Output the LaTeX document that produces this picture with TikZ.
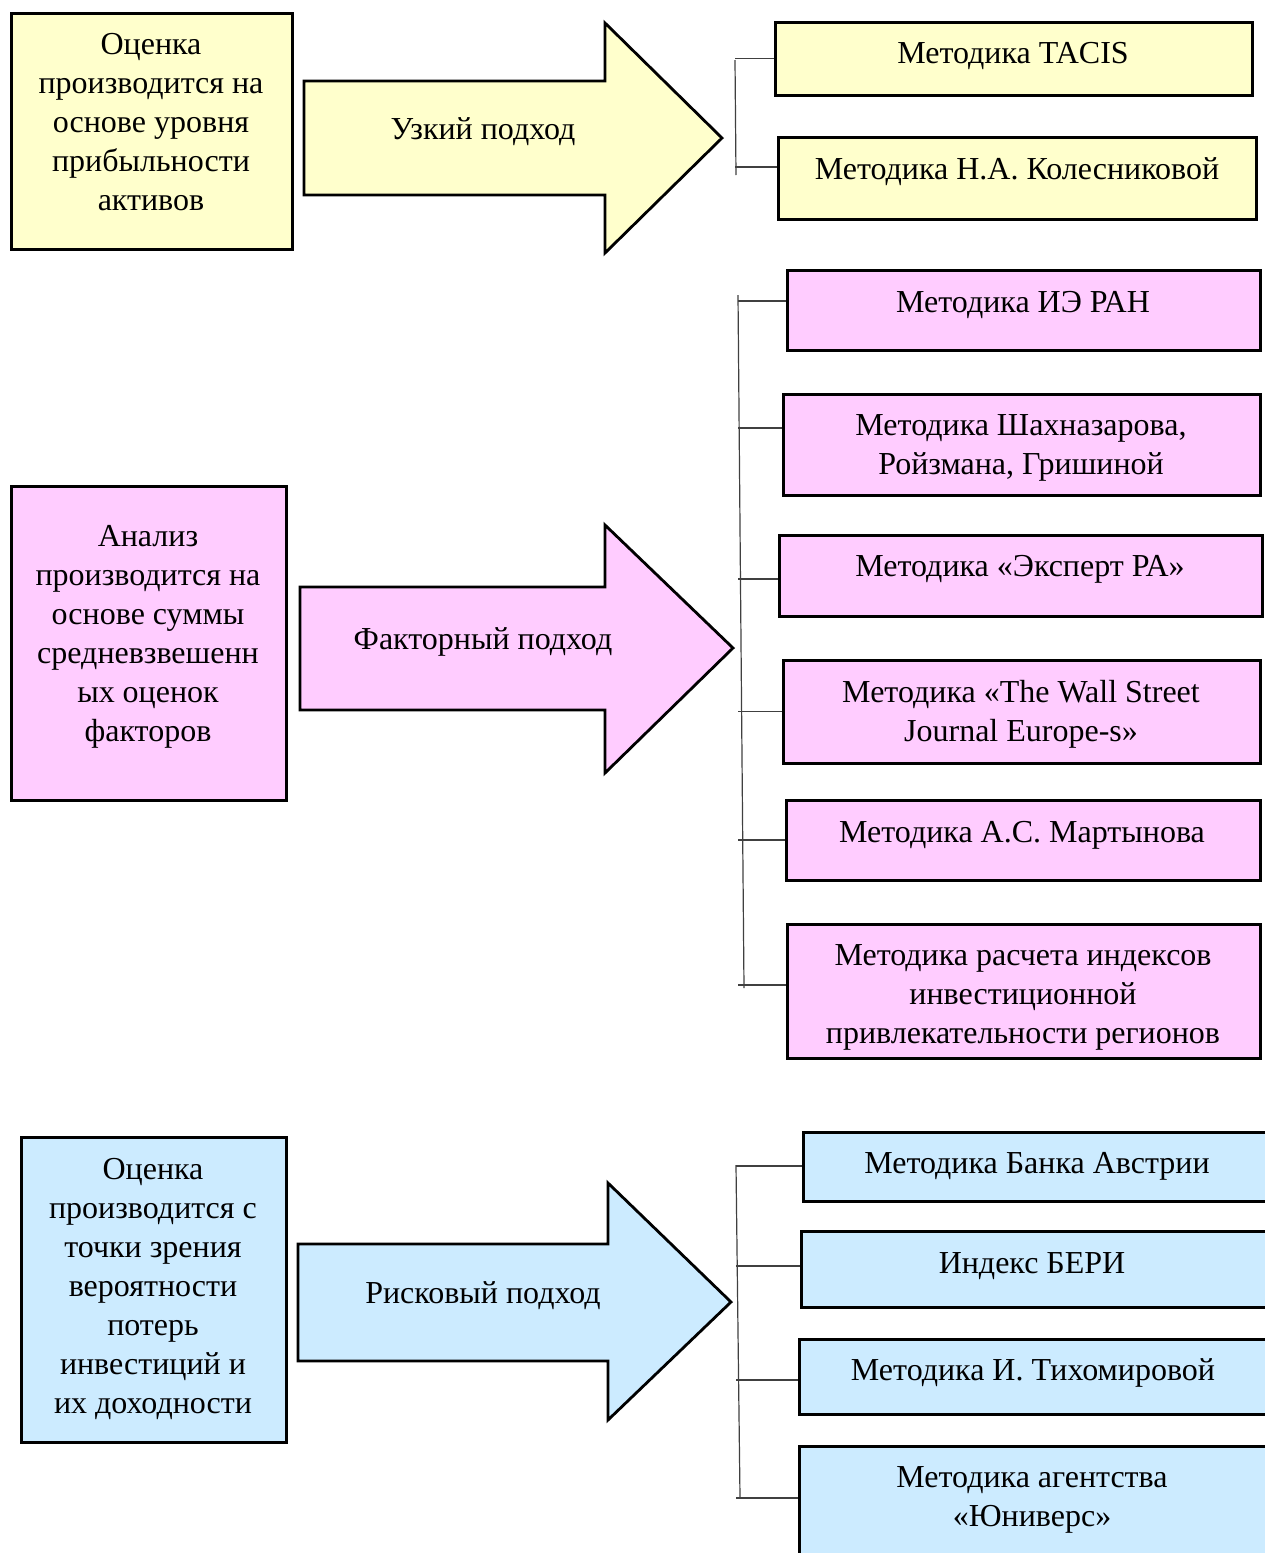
\documentclass[tikz,border=0pt]{standalone}
\usepackage{fontspec}
\setmainfont{Liberation Serif}
\usetikzlibrary{fit}
\definecolor{yel}{HTML}{FFFFCC}
\definecolor{pnk}{HTML}{FFCCFF}
\definecolor{blu}{HTML}{CCEBFF}

\begin{document}
\begin{tikzpicture}[x=0.5pt, y=-0.5pt,
    box/.style={draw, line width=1.5pt, inner sep=0pt},
    bigarrow/.style={draw, line width=1.4pt, line join=miter},
    txt/.style={align=center, yshift=-2pt, font=\fontsize{16}{19.5}\selectfont},
    link/.style={draw=black!75, line width=0.6pt}]
  \useasboundingbox (0,0) rectangle (1264,1553);

  % narrow approach
  \node[box, fill=yel, fit={(11,13) (292,249)}] (nleft) {};
  \node[txt] (nleftl) at (151,118) {Оценка\\производится на\\основе уровня\\прибыльности\\активов};
  \draw[bigarrow, fill=yel] (304,81) -- (605,81) -- (605,23) -- (722,138)
    -- (605,253) -- (605,195) -- (304,195) -- cycle;
  \node[txt] (narrow) at (483,128) {Узкий подход};
  \node[box, fill=yel, fit={(775,22) (1252,95)}] (n1) {};
  \node[txt] (n1l) at (1013,52) {Методика TACIS};
  \node[box, fill=yel, fit={(778,137) (1256,219)}] (n2) {};
  \node[txt] (n2l) at (1017,168) {Методика Н.А. Колесниковой};
  \coordinate (ntop) at (735,60);
  \coordinate (nbot) at (736,175);
  \draw[link] (ntop) -- (nbot);
  \draw[link] (ntop |- n1.west) -- (n1.west);
  \draw[link] (ntop |- 0,167) -- (n2.west |- 0,167);

  % factor approach
  \node[box, fill=pnk, fit={(11,486) (286,800)}] (fleft) {};
  \node[txt] (fleftl) at (148,633) {Анализ\\производится на\\основе суммы\\средневзвешенн\\ых оценок\\факторов};
  \draw[bigarrow, fill=pnk] (300,587) -- (605,587) -- (605,525) -- (733,648)
    -- (605,773) -- (605,710) -- (300,710) -- cycle;
  \node[txt] (farrow) at (483,638) {Факторный подход};
  \node[box, fill=pnk, fit={(787,270) (1260,350)}] (f1) {};
  \node[txt] (f1l) at (1023,301) {Методика ИЭ РАН};
  \node[box, fill=pnk, fit={(783,394) (1260,495)}] (f2) {};
  \node[txt] (f2l) at (1021,444) {Методика Шахназарова,\\Ройзмана, Гришиной};
  \node[box, fill=pnk, fit={(779,535) (1262,616)}] (f3) {};
  \node[txt] (f3l) at (1020,565) {Методика «Эксперт РА»};
  \node[box, fill=pnk, fit={(783,660) (1260,763)}] (f4) {};
  \node[txt] (f4l) at (1021,710) {Методика «The Wall Street\\Journal Europe-s»};
  \node[box, fill=pnk, fit={(786,800) (1260,880)}] (f5) {};
  \node[txt] (f5l) at (1022,831) {Методика А.С. Мартынова};
  \node[box, fill=pnk, fit={(787,924) (1260,1058)}] (f6) {};
  \node[txt] (f6l) at (1023,993) {Методика расчета индексов\\инвестиционной\\привлекательности регионов};
  \coordinate (ftop) at (738,295);
  \coordinate (fbot) at (744,988);
  \draw[link] (ftop) -- (fbot);
  \draw[link] (ftop |- 0,301) -- (f1.west |- 0,301);
  \draw[link] (ftop |- 0,428) -- (f2.west |- 0,428);
  \draw[link] (ftop |- 0,579) -- (f3.west |- 0,579);
  \draw[link] (ftop |- f4.west) -- (f4.west);
  \draw[link] (ftop |- f5.west) -- (f5.west);
  \draw[link] (ftop |- 0,985) -- (f6.west |- 0,985);

  % risk approach
  \node[box, fill=blu, fit={(21,1137) (286,1442)}] (rleft) {};
  \node[txt] (rleftl) at (153,1285) {Оценка\\производится с\\точки зрения\\вероятности\\потерь\\инвестиций и\\их доходности};
  \draw[bigarrow, fill=blu] (298,1244) -- (608,1244) -- (608,1183) -- (731,1302)
    -- (608,1420) -- (608,1361) -- (298,1361) -- cycle;
  \node[txt] (rarrow) at (483,1292) {Рисковый подход};
  \node[box, fill=blu, fit={(803,1132) (1266,1201)}] (r1) {};
  \node[txt] (r1l) at (1037,1162) {Методика Банка Австрии};
  \node[box, fill=blu, fit={(801,1231) (1266,1307)}] (r2) {};
  \node[txt] (r2l) at (1032,1262) {Индекс БЕРИ};
  \node[box, fill=blu, fit={(799,1339) (1266,1414)}] (r3) {};
  \node[txt] (r3l) at (1033,1369) {Методика И. Тихомировой};
  \node[box, fill=blu, fit={(799,1446) (1266,1556)}] (r4) {};
  \node[txt] (r4l) at (1032,1496) {Методика агентства\\«Юниверс»};
  \coordinate (rtop) at (736,1165);
  \coordinate (rbot) at (740,1497);
  \draw[link] (rtop) -- (rbot);
  \draw[link] (rtop |- 0,1166) -- (r1.west |- 0,1166);
  \draw[link] (rtop |- 0,1266) -- (r2.west |- 0,1266);
  \draw[link] (rtop |- 0,1380) -- (r3.west |- 0,1380);
  \draw[link] (rtop |- 0,1498) -- (r4.west |- 0,1498);
\end{tikzpicture}
\end{document}
